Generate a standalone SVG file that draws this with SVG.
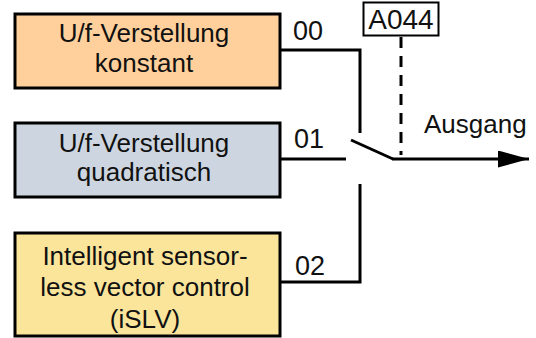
<svg xmlns="http://www.w3.org/2000/svg" width="536" height="338" viewBox="0 0 536 338">
<style>
.box{stroke:#000;stroke-width:3}
.t{font-family:"Liberation Sans",Arial,sans-serif;font-size:26px;fill:#111;text-anchor:middle}
.l{font-family:"Liberation Sans",Arial,sans-serif;font-size:27px;fill:#111}
.w{stroke:#000;stroke-width:3;fill:none}
</style>
<defs>
<marker id="arr" markerUnits="userSpaceOnUse" markerWidth="32" markerHeight="18" refX="31" refY="8.5" orient="auto">
<path d="M0,0 L31,8.5 L0,17 Z" fill="#000"/>
</marker>
</defs>
<g id="node-konstant">
<rect class="box" x="15" y="14" width="265" height="74" fill="#FFD09B"/>
<text class="t" x="144" y="42">U/f-Verstellung</text>
<text class="t" x="144" y="72">konstant</text>
</g>
<g id="node-quadratisch">
<rect class="box" x="15" y="123" width="265" height="74" fill="#CDD6E0"/>
<text class="t" x="144" y="152">U/f-Verstellung</text>
<text class="t" x="144" y="181">quadratisch</text>
</g>
<g id="node-islv">
<rect class="box" x="15" y="233" width="265" height="103" fill="#FAE59B"/>
<text class="t" x="145" y="265">Intelligent sensor-</text>
<text class="t" x="145" y="296">less vector control</text>
<text class="t" x="145" y="328">(iSLV)</text>
</g>
<g id="node-a044">
<rect x="363.5" y="2.5" width="75" height="33" fill="#fff" stroke="#000" stroke-width="2"/>
<text x="401" y="29" font-family="Liberation Sans, Arial, sans-serif" font-size="28" fill="#111" text-anchor="middle">A044</text>
</g>
<g id="connectors">
<polyline class="w" points="281,50 360,50 360,133"/>
<polyline class="w" points="281,159 346,159"/>
<polyline class="w" points="281,282 360,282 360,184"/>
<line class="w" x1="351" y1="140" x2="393" y2="159"/>
<line class="w" x1="392" y1="159" x2="529" y2="159" marker-end="url(#arr)"/>
<line x1="401" y1="37" x2="401" y2="155" stroke="#000" stroke-width="3" stroke-dasharray="11 8"/>
<text class="l" x="293" y="40">00</text>
<text class="l" x="294" y="148">01</text>
<text class="l" x="295" y="275">02</text>
<text x="424" y="133" font-family="Liberation Sans, Arial, sans-serif" font-size="26" fill="#111">Ausgang</text>
</g>
</svg>
